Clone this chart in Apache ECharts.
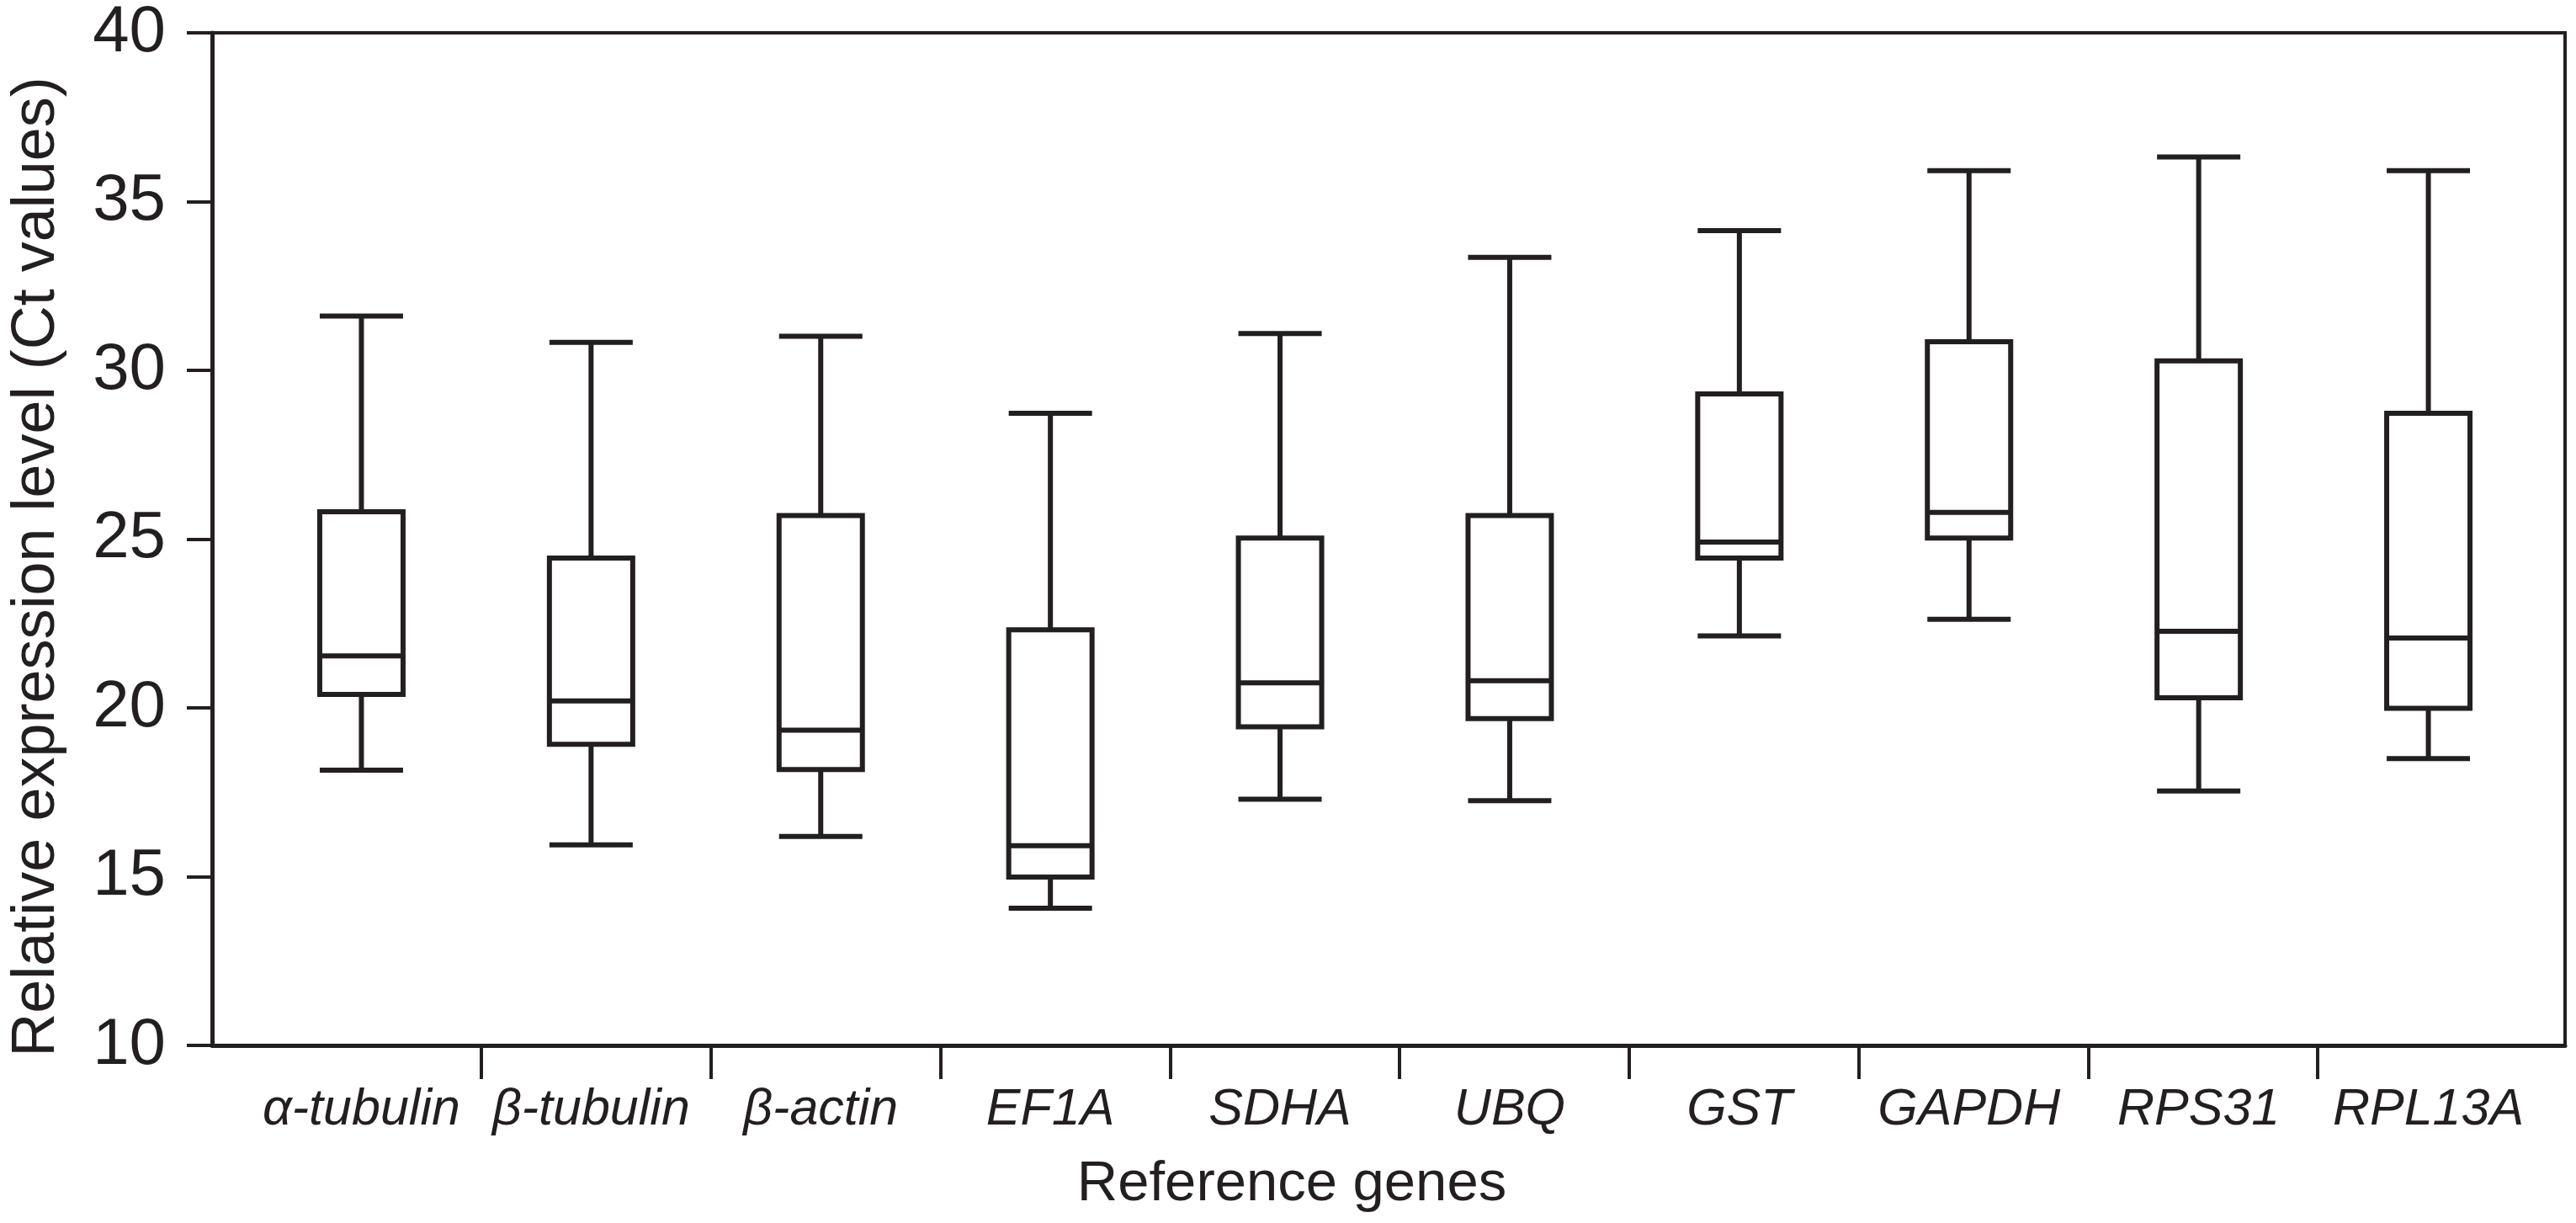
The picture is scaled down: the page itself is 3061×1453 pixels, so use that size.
<!DOCTYPE html>
<html><head><meta charset="utf-8">
<script src="https://cdn.jsdelivr.net/npm/echarts@6/dist/echarts.min.js"></script>
<style>html,body{margin:0;padding:0;background:#fff}#c{width:3061px;height:1453px}</style>
</head><body><div id="c"></div>
<script>
// ---- data ----
const genes = ['α-tubulin','β-tubulin','β-actin','EF1A','SDHA','UBQ','GST','GAPDH','RPS31','RPL13A'];
const whiskerLow  = [18.06,15.87,16.12,14.02,17.21,17.17,21.99,22.48,17.45,18.40];
const q1          = [20.28,18.82,18.08,14.93,19.33,19.57,24.27,24.86,20.18,19.87];
const median      = [21.41,20.09,19.23,15.85,20.62,20.68,24.74,25.61,22.13,21.93];
const q3          = [25.63,24.27,25.52,22.17,24.86,25.52,29.08,30.61,30.05,28.51];
const whiskerHigh = [31.36,30.59,30.77,28.51,30.85,33.08,33.86,35.62,36.02,35.62];
const yTicks = [10,15,20,25,30,35,40];
const yTitle = 'Relative expression level (Ct values)';
const xTitle = 'Reference genes';

const boxData = genes.map((g,i)=>[whiskerLow[i], q1[i], median[i], q3[i], whiskerHigh[i]]);
const ink = '#231f20';
const F = '"Liberation Sans", Arial, Helvetica, sans-serif';
const yMin = yTicks[0], yMax = yTicks[yTicks.length-1], yStep = yTicks[1]-yTicks[0];

const chart = echarts.init(document.getElementById('c'), null, {renderer:'canvas'});
chart.setOption({
  backgroundColor:'#ffffff',
  animation:false,
  grid:[
    {left:248, top:25, width:2800, height:1217, show:true, borderColor:ink, borderWidth:4, backgroundColor:'transparent'},
    {left:293, top:25, width:2729, height:1217},
    {left:572, top:25, width:2182, height:1217}
  ],
  xAxis:[
    {gridIndex:0, type:'value', min:0, max:1,
     axisLine:{show:true, onZero:false, lineStyle:{color:ink, width:5}},
     axisTick:{show:false}, axisLabel:{show:false}, splitLine:{show:false},
     name:xTitle, nameLocation:'middle', nameGap:132,
     nameTextStyle:{fontFamily:F, fontSize:67, color:ink, padding:[0,230,0,0]}},
    {gridIndex:1, type:'category', data:genes, boundaryGap:true,
     axisLine:{show:false}, axisTick:{show:false}, splitLine:{show:false},
     axisLabel:{interval:0, fontFamily:F, fontStyle:'italic', fontSize:61, color:ink, margin:47}},
    {gridIndex:2, type:'value', min:1, max:9, interval:1,
     axisLine:{show:false, onZero:false},
     axisTick:{show:true, inside:false, length:40, lineStyle:{color:ink, width:4}},
     axisLabel:{show:false}, splitLine:{show:false}}
  ],
  yAxis:[
    {gridIndex:0, type:'value', min:yMin, max:yMax, interval:yStep,
     axisLine:{show:true, onZero:false, lineStyle:{color:ink, width:5}},
     axisTick:{show:true, inside:false, length:30, lineStyle:{color:ink, width:4}},
     axisLabel:{fontFamily:F, fontSize:78, color:ink, margin:55},
     splitLine:{show:false},
     name:yTitle, nameLocation:'middle', nameGap:172,
     nameTextStyle:{fontFamily:F, fontSize:72, color:ink, padding:[0,66,0,0]}},
    {gridIndex:1, type:'value', min:yMin, max:yMax, show:false, splitLine:{show:false}},
    {gridIndex:2, type:'value', min:0, max:1, show:false, splitLine:{show:false}}
  ],
  series:[{
    type:'boxplot', xAxisIndex:1, yAxisIndex:1,
    data:boxData, boxWidth:[99,99],
    itemStyle:{color:'#ffffff', borderColor:ink, borderWidth:6},
    emphasis:{disabled:true}
  }]
});
</script></body></html>
